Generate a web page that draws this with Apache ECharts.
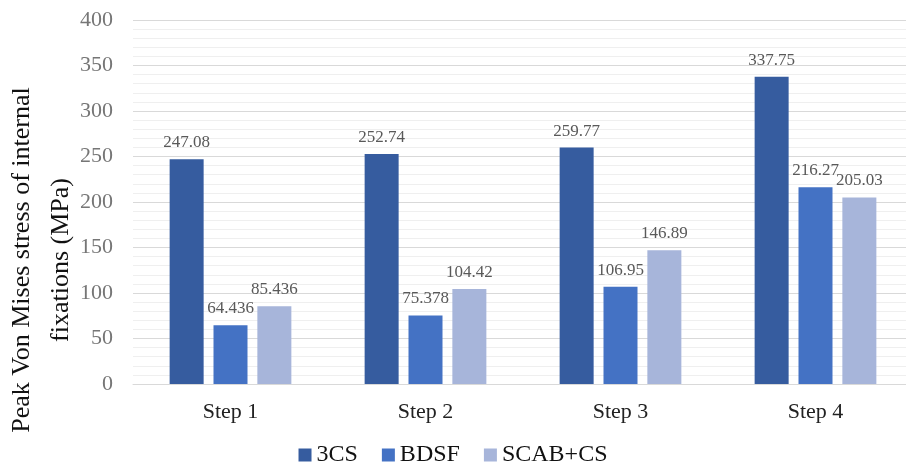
<!DOCTYPE html>
<html><head><meta charset="utf-8">
<script src="https://cdn.jsdelivr.net/npm/echarts@6/dist/echarts.min.js"></script>
<style>html,body{margin:0;padding:0;background:#fff}#c{width:906px;height:463px}</style>
</head><body><div id="c"></div>
<script>
const categories = ['Step 1', 'Step 2', 'Step 3', 'Step 4'];
const seriesNames = ['3CS', 'BDSF', 'SCAB+CS'];
const v3CS = [247.08, 252.74, 259.77, 337.75];
const vBDSF = [64.436, 75.378, 106.95, 216.27];
const vSCAB = [85.436, 104.42, 146.89, 205.03];
const colors = ['#365C9F', '#4472C4', '#A7B5DA'];
const font = '"Liberation Serif", "Times New Roman", serif';
const chart = echarts.init(document.getElementById('c'));
function mk(name, data, color) {
  return {
    name: name, type: 'bar', data: data, barWidth: 34, barGap: '29%',
    itemStyle: { color: color },
    label: { show: true, position: 'top', distance: 8, color: '#595959', fontFamily: font, fontSize: 17,
      formatter: p => String(p.value) }
  };
}
chart.setOption({
  animation: false,
  textStyle: { fontFamily: font },
  grid: { left: 133, top: 20, width: 780, height: 364, containLabel: false, outerBoundsMode: 'none' },
  legend: {
    top: 438, left: 'center', itemWidth: 13, itemHeight: 13, itemGap: 24,
    icon: 'rect', textStyle: { fontFamily: font, fontSize: 24, color: '#111' },
    data: seriesNames
  },
  xAxis: {
    type: 'category', data: categories,
    axisLine: { lineStyle: { color: '#d9d9d9' } }, axisTick: { show: false },
    axisLabel: { fontFamily: font, fontSize: 22, color: '#222', margin: 17 }
  },
  yAxis: {
    type: 'value', min: 0, max: 400, interval: 50,
    name: 'Peak Von Mises stress of internal\nfixations (MPa)',
    nameLocation: 'middle', nameGap: 52, nameRotate: 90, nameMoveOverlap: false,
    nameTextStyle: { fontFamily: font, fontSize: 26, color: '#111', lineHeight: 39, padding: [0, 116, 0, 0] },
    axisLine: { show: false }, axisTick: { show: false },
    axisLabel: { fontFamily: font, fontSize: 22, color: '#767676', margin: 20 },
    splitLine: { lineStyle: { color: '#d9d9d9', width: 1 } },
    minorTick: { show: false, splitNumber: 5 },
    minorSplitLine: { show: true, lineStyle: { color: '#efefef', width: 1 } }
  },
  series: [mk(seriesNames[0], v3CS, colors[0]), mk(seriesNames[1], vBDSF, colors[1]), mk(seriesNames[2], vSCAB, colors[2])]
});
</script></body></html>
